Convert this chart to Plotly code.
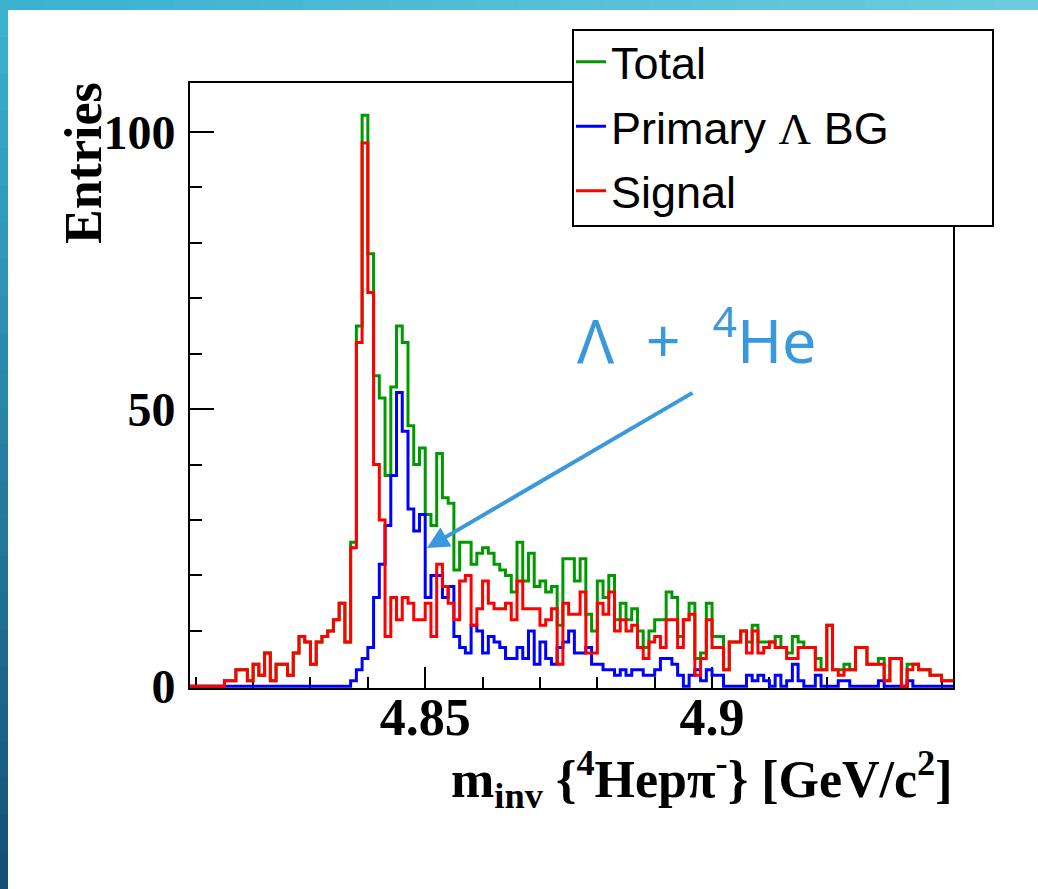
import numpy as np
import plotly.graph_objects as go

# ---------------- data (1 MeV bins starting at x_low) ----------------
x_low = 4.809
bin_width = 0.001

signal = [0, 0, 0, 0, 0, 0, 1, 1, 3, 3, 1, 4, 2, 6, 1, 4, 4, 2, 6, 9, 8, 4, 8, 9, 10, 12, 15, 8,
          25, 62, 98, 71, 40, 30, 9, 16, 12, 16, 15, 12, 12, 15, 9, 22,
          18, 15, 12, 19, 20, 11, 14, 19, 15, 14, 14, 15, 12, 19, 14, 14, 14, 11, 12, 14,
          4, 15, 13, 13, 17, 6, 6, 15, 13, 17, 10, 12, 10, 11,
          7, 5, 8, 9, 7, 12, 12, 7, 12, 13, 2, 5, 12, 7, 7, 3, 8, 8, 10, 6,
          10, 6, 7, 8, 7, 7, 5, 5, 7, 7, 7, 3, 3, 11, 3, 2, 3, 3, 7, 7,
          4, 4, 4, 1, 5, 5, 0, 3, 4, 3, 3, 2, 2, 1, 1]

primary_bg = [0] * 28 + [
          1, 3, 5, 7, 16, 22, 29, 38, 53, 46, 32, 28, 31, 16, 20, 20,
          16, 18, 9, 7, 6, 11, 10, 6, 9, 8, 7, 5, 5, 7, 5, 10, 4, 8, 5, 4,
          7, 8, 10, 6, 6, 7, 4, 4, 3, 3, 2, 3, 2, 3,
          3, 2, 2, 3, 5, 5, 4, 2, 0, 2, 3, 1, 3, 2, 2, 0, 0, 0, 0, 2,
          1, 2, 1, 0, 2, 0, 1, 4, 1, 0, 0, 2, 0, 0, 0, 1, 1, 0, 0, 0,
          0, 0, 1, 0, 0, 0, 0, 1, 0, 0, 0, 0, 0, 0, 0]

total = [0, 0, 0, 0, 0, 0, 1, 1, 3, 3, 1, 4, 2, 6, 1, 4, 4, 2, 6, 9, 8, 4, 8, 9, 10, 12, 15, 8,
         26, 65, 103, 78, 56, 52, 38, 54, 65, 62, 47, 40, 43, 31, 29, 42,
         34, 33, 21, 26, 26, 22, 24, 25, 24, 22, 21, 20, 17, 26, 19, 24, 18, 19, 17, 18,
         11, 23, 23, 19, 23, 13, 10, 19, 16, 20, 12, 15, 12, 14,
         10, 7, 10, 12, 12, 17, 16, 9, 12, 15, 5, 6, 15, 9, 9, 3, 8, 8, 10, 8,
         11, 8, 8, 8, 9, 7, 6, 9, 8, 7, 7, 5, 3, 11, 3, 3, 4, 3, 7, 7,
         4, 4, 5, 1, 5, 5, 0, 4, 4, 3, 3, 2, 2, 1, 1]

x_tick_vals = [4.85, 4.9]
x_tick_text = ["4.85", "4.9"]
y_tick_vals = [0, 50, 100]
y_tick_text = ["0", "50", "100"]

series_names = ["Total",
                "Primary <span style='font-family:Liberation Serif'>\u039b</span> BG",
                "Signal"]
series_colors = ["#009a00", "#0000ff", "#ff0000"]

# ---------------- figure ----------------
W, H = 1038, 889
L, R, T, B = 190, 85, 83, 201
pw, ph = W - L - R, H - T - B


def px_x(p):
    return (p - L) / pw


def px_y(p):
    return (H - B - p) / ph


n = len(signal)
edges = x_low + bin_width * np.arange(n + 1)


def step(vals):
    return list(vals) + [vals[-1]]


fig = go.Figure()
for vals, name, col in zip([total, primary_bg, signal], series_names, series_colors):
    fig.add_trace(go.Scatter(
        x=edges, y=step(vals), mode="lines", name=name, legendgroup=name,
        line=dict(color=col, width=3, shape="hv"),
        hoverinfo="skip",
    ))

x_range = [x_low, x_low + n * bin_width]
y_range = [-0.3, 108.8]

fig.update_layout(
    width=W, height=H,
    margin=dict(l=L, r=R, t=T, b=B, pad=0),
    paper_bgcolor="white", plot_bgcolor="white",
    showlegend=True,
    legend=dict(
        x=px_x(571), y=px_y(26), xanchor="left", yanchor="top",
        bgcolor="rgba(0,0,0,0)", borderwidth=0,
        font=dict(family="Liberation Sans", size=45, color="black"),
        itemwidth=30, tracegroupgap=3,
    ),
    xaxis=dict(
        range=x_range, showgrid=False, zeroline=False,
        showline=True, linecolor="black", linewidth=2, mirror=True,
        tickmode="array", tickvals=x_tick_vals, ticktext=x_tick_text,
        ticks="inside", ticklen=21, tickwidth=2, tickcolor="black",
        minor=dict(tickmode="linear", tick0=4.80, dtick=0.01, ticks="inside",
                   ticklen=11, tickwidth=2, tickcolor="black"),
        tickfont=dict(family="Liberation Serif", size=52, color="black", weight="bold"),
        ticklabelstandoff=-17,
        layer="below traces",
    ),
    yaxis=dict(
        range=y_range, showgrid=False, zeroline=False,
        showline=True, linecolor="black", linewidth=2, mirror=True,
        tickmode="array", tickvals=y_tick_vals, ticktext=y_tick_text,
        ticks="inside", ticklen=24, tickwidth=2, tickcolor="black",
        minor=dict(tickmode="linear", tick0=0, dtick=10, ticks="inside",
                   ticklen=12, tickwidth=2, tickcolor="black"),
        tickfont=dict(family="Liberation Serif", size=48, color="black", weight="bold"),
        ticklabelstandoff=3,
        layer="below traces",
    ),
)

shapes = []
# slide decoration: top strip and left strip (stepped gradient)
nseg = 24
for i in range(nseg):
    f = i / (nseg - 1)
    c = (int(58 + f * 50), int(178 + f * 26), int(208 + f * 14))
    shapes.append(dict(type="rect", xref="paper", yref="paper",
                       x0=px_x(W * i / nseg), x1=px_x(W * (i + 1) / nseg + 1),
                       y0=px_y(10), y1=px_y(0), line=dict(width=0),
                       fillcolor="rgb(%d,%d,%d)" % c, layer="above"))
for i in range(nseg):
    f = i / (nseg - 1)
    c = (int(58 - f * 36), int(178 - f * 98), int(208 - f * 88))
    shapes.append(dict(type="rect", xref="paper", yref="paper",
                       x0=px_x(0), x1=px_x(8),
                       y0=px_y(H * (i + 1) / nseg + 1), y1=px_y(H * i / nseg),
                       line=dict(width=0), fillcolor="rgb(%d,%d,%d)" % c, layer="above"))
# legend box
shapes.append(dict(type="rect", xref="paper", yref="paper",
                   x0=px_x(573), x1=px_x(993), y0=px_y(226), y1=px_y(30),
                   line=dict(color="black", width=2), fillcolor="white", layer="above"))
fig.update_layout(shapes=shapes)

head_y = y_range[0] + (H - B - 548) / ph * (y_range[1] - y_range[0])
annotations = [
    dict(text="<b>Entries</b>", xref="paper", yref="paper",
         x=px_x(84), y=px_y(80), xanchor="center", yanchor="top",
         textangle=-90, showarrow=False,
         font=dict(family="Liberation Serif", size=52, color="black")),
    dict(text="<b>m<sub>inv</sub> {<sup>4</sup>Hep\u03c0<sup>-</sup>} [GeV/c<sup>2</sup>]</b>",
         xref="paper", yref="paper", x=px_x(955), y=px_y(741),
         xanchor="right", yanchor="top", showarrow=False,
         font=dict(family="Liberation Serif", size=52, color="black")),
    dict(text="\u039b  +  <sup>4</sup>He", xref="paper", yref="paper",
         x=px_x(697), y=px_y(336), xanchor="center", yanchor="middle", showarrow=False,
         font=dict(family="Noto Sans", size=61, color="#3a98dd")),
    dict(text="", x=4.8503, y=head_y, xref="x", yref="y",
         showarrow=True, ax=267, ay=-156, axref="pixel", ayref="pixel",
         arrowhead=2, arrowsize=1.1, arrowwidth=4, arrowcolor="#3a98dd"),
]
fig.update_layout(annotations=annotations)

fig.write_html("out.html")
